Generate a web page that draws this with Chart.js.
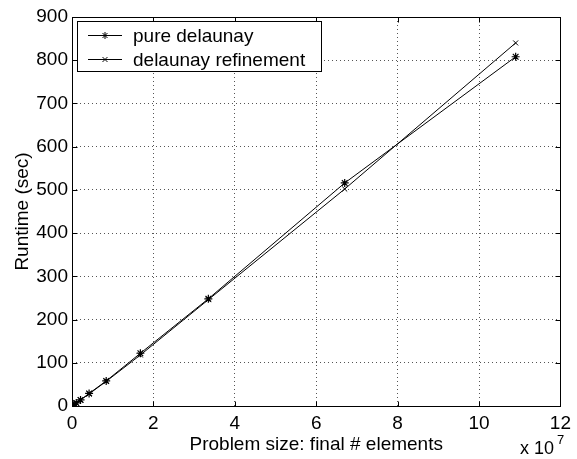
<!DOCTYPE html>
<html>
<head>
<meta charset="utf-8">
<script src="https://cdn.jsdelivr.net/npm/chart.js@4/dist/chart.umd.min.js"></script>
<style>
  body { margin: 0; background: #fff; }
  #wrap { width: 577px; height: 459px; position: relative; }
</style>
</head>
<body>
<div id="wrap"><canvas id="runtime"></canvas></div>
<script>
// problem size in units of 10^7 elements
var sizeE7 = [0.026, 0.052, 0.105, 0.21, 0.42, 0.84, 1.68, 3.35, 6.7, 10.9];
// runtime in seconds
var pureDelaunay = [1.7, 3.5, 7, 14, 29, 58, 122, 248, 516, 808];
var delaunayRefinement = [1.7, 3.4, 7, 14, 28, 57, 118, 246, 502, 840];

var xTicks = [0, 2, 4, 6, 8, 10, 12];
var yTicks = [0, 100, 200, 300, 400, 500, 600, 700, 800, 900];

var FONT = 'Liberation Sans, Arial, Helvetica, sans-serif';
var FSIZE = 19;

function toPoints(xs, ys) {
  var pts = [];
  for (var i = 0; i < xs.length; i++) {
    pts.push({ x: xs[i], y: ys[i] });
  }
  return pts;
}

// frame round the plot plus inward tick marks on all four sides
var framePlugin = {
  id: 'frame',
  afterDatasetsDraw: function(chart) {
    var ctx = chart.ctx;
    var a = chart.chartArea;
    var xs = chart.scales.x, ys = chart.scales.y;
    var L = Math.round(a.left) + 0.5, R = Math.round(a.right) + 0.5;
    var T = Math.round(a.top) + 0.5, B = Math.round(a.bottom) + 0.5;
    ctx.save();
    ctx.strokeStyle = '#000';
    ctx.lineWidth = 1;
    ctx.setLineDash([]);
    ctx.strokeRect(L, T, R - L, B - T);
    ctx.beginPath();
    xTicks.forEach(function(v) {
      var px = Math.round(xs.getPixelForValue(v)) + 0.5;
      ctx.moveTo(px, B); ctx.lineTo(px, B - 5);
      ctx.moveTo(px, T); ctx.lineTo(px, T + 5);
    });
    yTicks.forEach(function(v) {
      var py = Math.round(ys.getPixelForValue(v)) + 0.5;
      ctx.moveTo(L, py); ctx.lineTo(L + 5, py);
      ctx.moveTo(R, py); ctx.lineTo(R - 5, py);
    });
    ctx.stroke();

    // exponent label under the right end of the x axis
    ctx.fillStyle = '#000';
    ctx.textBaseline = 'alphabetic';
    ctx.textAlign = 'left';
    ctx.font = '18px ' + FONT;
    ctx.fillText('x 10', 520, 454);
    ctx.font = '13px ' + FONT;
    ctx.fillText('7', 557, 444);
    ctx.restore();
  }
};

// boxed legend in the upper left corner of the plot
var boxLegendPlugin = {
  id: 'boxLegend',
  afterDraw: function(chart) {
    var ctx = chart.ctx;
    var left = 77.5, top = 21.5, w = 244, h = 50;
    ctx.save();
    ctx.fillStyle = '#fff';
    ctx.fillRect(left, top, w, h);
    ctx.strokeStyle = '#000';
    ctx.lineWidth = 1;
    ctx.strokeRect(left, top, w, h);
    ctx.font = FSIZE + 'px ' + FONT;
    ctx.textBaseline = 'middle';
    ctx.textAlign = 'left';
    chart.data.datasets.forEach(function(ds, i) {
      var y = Math.round(top + 13 + i * 24) + 0.5;
      ctx.strokeStyle = '#000';
      ctx.beginPath();
      ctx.moveTo(88, y);
      ctx.lineTo(122, y);
      ctx.stroke();
      Chart.helpers.drawPoint(ctx, {
        pointStyle: ds.pointStyle,
        radius: 3.5,
        borderWidth: 1,
        rotation: 0
      }, 105, y);
      ctx.fillStyle = '#000';
      ctx.fillText(ds.label, 133, y + 1);
    });
    ctx.restore();
  }
};

var config = {
  type: 'scatter',
  data: {
    datasets: [{
      label: 'pure delaunay',
      data: toPoints(sizeE7, pureDelaunay),
      showLine: true,
      borderColor: '#000',
      backgroundColor: '#000',
      borderWidth: 1,
      pointStyle: 'star',
      pointRadius: 4,
      pointBorderWidth: 1.2
    }, {
      label: 'delaunay refinement',
      data: toPoints(sizeE7, delaunayRefinement),
      showLine: true,
      borderColor: '#000',
      backgroundColor: '#000',
      borderWidth: 1,
      pointStyle: 'crossRot',
      pointRadius: 3.5,
      pointBorderWidth: 1
    }]
  },
  options: {
    responsive: true,
    maintainAspectRatio: false,
    animation: false,
    layout: { padding: { top: 17, right: 11, left: 0, bottom: 0 } },
    plugins: {
      legend: { display: false },
      tooltip: { enabled: false }
    },
    scales: {
      x: {
        type: 'linear',
        min: 0,
        max: 12,
        afterFit: function(scale) { scale.height = 53; },
        afterBuildTicks: function(scale) {
          scale.ticks = xTicks.map(function(v) { return { value: v }; });
        },
        grid: { color: '#555', drawTicks: false },
        border: { display: false, dash: [1, 3] },
        ticks: { color: '#000', padding: 6, font: { family: FONT, size: FSIZE } },
        title: {
          display: true,
          text: 'Problem size: final # elements',
          color: '#000',
          font: { family: FONT, size: FSIZE },
          padding: { top: 0, bottom: 3 }
        }
      },
      y: {
        type: 'linear',
        min: 0,
        max: 900,
        afterFit: function(scale) { scale.width = 72; },
        afterBuildTicks: function(scale) {
          scale.ticks = yTicks.map(function(v) { return { value: v }; });
        },
        grid: { color: '#555', drawTicks: false },
        border: { display: false, dash: [1, 3] },
        ticks: { color: '#000', padding: 4, font: { family: FONT, size: FSIZE } },
        title: {
          display: true,
          text: 'Runtime (sec)',
          color: '#000',
          font: { family: FONT, size: FSIZE },
          padding: { top: 11, bottom: 0 }
        }
      }
    }
  },
  plugins: [framePlugin, boxLegendPlugin]
};

var ctx = document.getElementById('runtime').getContext('2d');
window.runtimeChart = new Chart(ctx, config);
</script>
</body>
</html>
